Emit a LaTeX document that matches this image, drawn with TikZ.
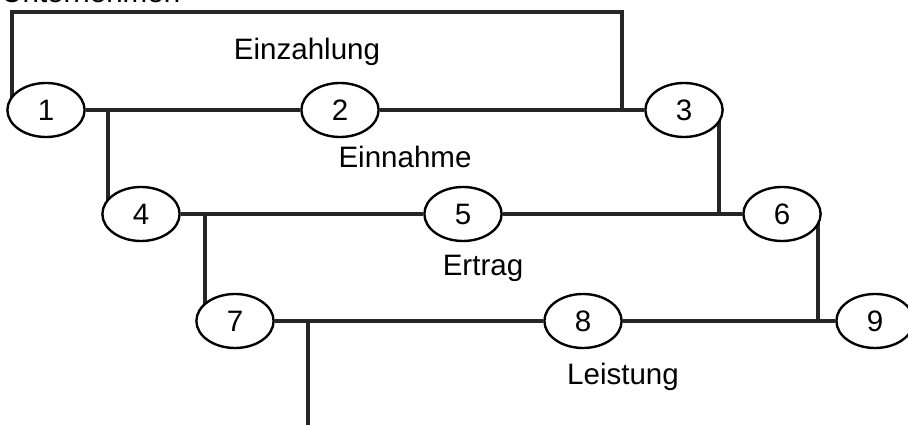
\documentclass[tikz,border=0pt]{standalone}
\usepackage{fontspec}
\setmainfont{Liberation Sans}
\usepackage{tikz}
\usetikzlibrary{shapes,backgrounds}

\begin{document}
\begin{tikzpicture}[x=0.025cm, y=-0.025cm,
  evt/.style={ellipse, draw, line width=1.7pt, fill=white, minimum width=1.93cm, minimum height=1.35cm, inner sep=0pt, font=\fontsize{21}{25}\selectfont},
  lbl/.style={font=\fontsize{21}{25}\selectfont},
  conn/.style={line width=2.2pt, black!85}]
\useasboundingbox (0,0) rectangle (908,425);
\clip (0,0) rectangle (908,425);
\node[lbl, anchor=base west, inner sep=0pt] (head) at (1,3) {Unternehmen};
% Zeitpunkte
\node[evt] (n1) at (46,110) {1};
\node[evt] (n2) at (340,110) {2};
\node[evt] (n3) at (684,110) {3};
\node[evt] (n4) at (141,214) {4};
\node[evt] (n5) at (463,214) {5};
\node[evt] (n6) at (782,214) {6};
\node[evt] (n7) at (235,321) {7};
\node[evt] (n8) at (583,321) {8};
\node[evt] (n9) at (875,321) {9};
% Begriffe
\node[lbl] (l1) at (307,52) {Einzahlung};
\node[lbl] (l2) at (405,157) {Einnahme};
\node[lbl] (l3) at (483,268) {Ertrag};
\node[lbl] (l4) at (623,377) {Leistung};
% Ecken der Klammern
\coordinate (k1) at (12,12);
\coordinate (k2) at (622,12);
\coordinate (k3) at (108,0);
\coordinate (k4) at (719,0);
\coordinate (k5) at (205,0);
\coordinate (k6) at (818,0);
\coordinate (k7) at (308,425);
\begin{scope}[on background layer]
\draw[conn] (n1) -- (n2) -- (n3); \draw[conn] (n4) -- (n5) -- (n6); \draw[conn] (n7) -- (n8) -- (n9);
\draw[conn] (n1 -| k1) -- (k1) -- (k2) -- (k2 |- n2);
\draw[conn] (k3 |- n1) -- (k3 |- n4); \draw[conn] (k4 |- n3) -- (k4 |- n6);
\draw[conn] (k5 |- n4) -- (k5 |- n7); \draw[conn] (k6 |- n6) -- (k6 |- n9);
\draw[conn] (k7 |- n7) -- (k7);
\end{scope}
\end{tikzpicture}
\end{document}
